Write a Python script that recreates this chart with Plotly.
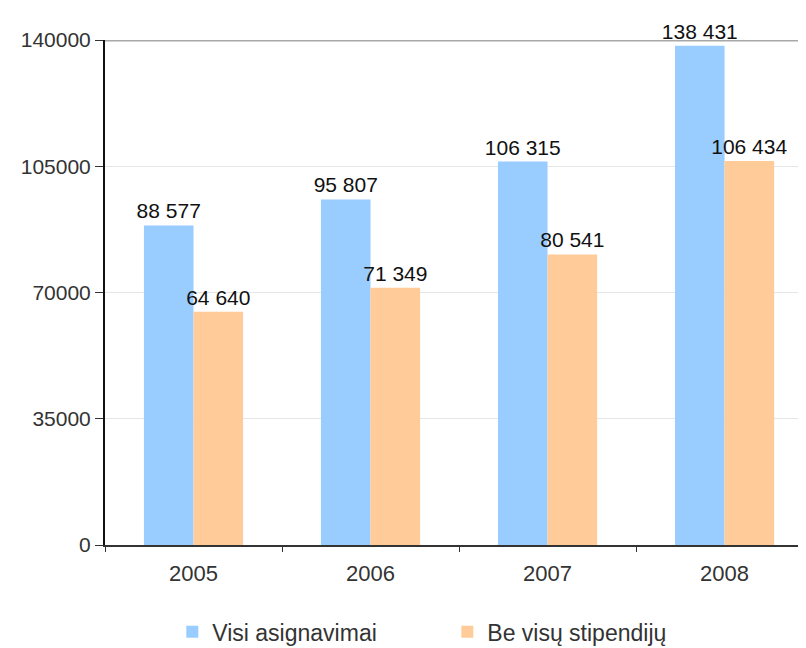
import plotly.graph_objects as go

years = ["2005", "2006", "2007", "2008"]
visi = [88577, 95807, 106315, 138431]
be_visu = [64640, 71349, 80541, 106434]
series_names = ["Visi asignavimai", "Be visų stipendijų"]
y_ticks = [0, 35000, 70000, 105000, 140000]

font = "Liberation Sans, Arial, sans-serif"

fig = go.Figure()
fig.add_trace(go.Bar(
    x=years, y=visi, name=series_names[0],
    marker=dict(color="#99CCFF", line=dict(width=0)),
    texttemplate="%{y:,}", textposition="outside", cliponaxis=False,
    constraintext="none", textfont=dict(size=21, color="#111111", family=font),
))
fig.add_trace(go.Bar(
    x=years, y=be_visu, name=series_names[1],
    marker=dict(color="#FFCC99", line=dict(width=0)),
    texttemplate="%{y:,}", textposition="outside", cliponaxis=False,
    constraintext="none", textfont=dict(size=21, color="#111111", family=font),
))

# darker top border line at the axis maximum
fig.add_shape(type="line", xref="paper", x0=0, x1=1, yref="y",
              y0=y_ticks[-1], y1=y_ticks[-1],
              line=dict(color="#a8a8a8", width=3), layer="below")

fig.update_layout(
    width=798, height=640,
    margin=dict(l=97, r=0, t=32, b=103, autoexpand=False),
    paper_bgcolor="white", plot_bgcolor="white",
    separators=", ",
    barmode="group", bargap=0.44, bargroupgap=0,
    font=dict(family=font, size=21, color="#333333"),
    showlegend=True,
    legend=dict(orientation="h", x=0.096, xref="paper", xanchor="left",
                y=-0.172, yanchor="middle", font=dict(size=23, color="#333333"),
                itemwidth=30, tracegroupgap=0, entrywidth=230),
)
fig.update_xaxes(
    type="category", range=[-0.5, 3.46], automargin=False,
    showline=True, linecolor="#333333", linewidth=2,
    ticks="outside", tickson="boundaries", ticklen=5, tickcolor="#333333",
    ticklabelstandoff=8,
    showgrid=False, tickfont=dict(size=22, color="#333333"),
)
fig.update_yaxes(
    range=[0, 140000], tickvals=y_ticks, tickformat="d", automargin=False,
    showline=True, linecolor="#111111", linewidth=2,
    ticks="outside", ticklen=8, tickcolor="#333333",
    showgrid=True, gridcolor="#e6e6e6", gridwidth=1,
    tickfont=dict(size=21, color="#333333"), zeroline=False,
)

fig.write_html("out.html")
